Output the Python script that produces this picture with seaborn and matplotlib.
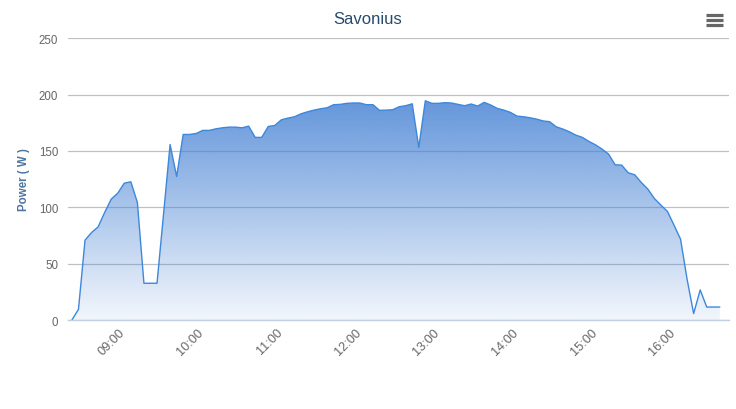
import numpy as np
import pandas as pd
import seaborn as sns
import matplotlib
matplotlib.use("Agg")
import matplotlib.pyplot as plt
import matplotlib.dates as mdates
from matplotlib.lines import Line2D

# power readings (W), one every ~5 minutes from 08:21
power = [
    0, 9.5, 70.8, 77.6, 82.6, 95.4, 107.2, 112.5, 121.4, 122.6,
    104.3, 32.6, 32.6, 32.6, 94.0, 155.7, 127.3, 164.6, 164.6, 165.5,
    168.2, 168.2, 169.6, 170.5, 171.1, 171.1, 170.5, 172.0, 162.0, 162.0,
    171.7, 172.6, 177.6, 179.1, 180.3, 182.9, 184.7, 186.2, 187.4, 188.3,
    191.0, 191.3, 192.2, 192.5, 192.5, 191.0, 191.0, 186.0, 186.2, 186.5,
    189.2, 190.1, 191.8, 153.1, 194.5, 192.2, 192.2, 192.8, 192.5, 191.3,
    190.1, 191.6, 189.8, 193.1, 190.7, 187.7, 186.2, 184.2, 180.9, 180.3,
    179.4, 178.2, 176.6, 175.9, 171.4, 169.4, 167.0, 164.0, 162.0, 158.4,
    155.4, 151.6, 147.2, 137.7, 137.4, 130.6, 128.8, 122.0, 116.1, 107.8,
    101.9, 96.3, 84.1, 71.7, 36.1, 5.7, 26.7, 11.5, 11.5, 11.5,
]
times = pd.date_range("2014-06-01 08:21", "2014-06-01 16:35", periods=len(power))
yticks = [0, 50, 100, 150, 200, 250]
title = "Savonius"
ylabel = "Power ( W )"

df = pd.DataFrame({"time": times, "power": power})

sns.set_style("white")
plt.rcParams["font.family"] = ["Liberation Sans", "DejaVu Sans"]

fig = plt.figure(figsize=(7.36, 4.10), dpi=100)
ax = fig.add_axes([68 / 736, 1 - 321 / 410, (729 - 68) / 736, (321 - 39.2) / 410])

sns.lineplot(data=df, x="time", y="power", ax=ax, color="#3d87dc", lw=1.0, zorder=3)

# gradient fill under the line
xn = mdates.date2num(df["time"])
poly = ax.fill_between(xn, 0, df["power"], color="none", lw=0)
ymax = max(power)
base = np.array([70, 130, 212]) / 255
alpha = np.linspace(0.07, 0.84, 256)
grad = np.zeros((256, 1, 4))
grad[:, 0, :3] = base
grad[:, 0, 3] = alpha
img = ax.imshow(grad, extent=[xn[0], xn[-1], 0, ymax], aspect="auto",
                origin="lower", zorder=2, interpolation="bilinear")
img.set_clip_path(poly.get_paths()[0], transform=ax.transData)

ax.set_xlim(pd.Timestamp("2014-06-01 08:18"), pd.Timestamp("2014-06-01 16:42"))
ax.set_ylim(0, 250)
ax.set_yticks(yticks)
ax.xaxis.set_major_locator(mdates.HourLocator())
ax.xaxis.set_major_formatter(mdates.DateFormatter("%H:%M"))

ax.set_axisbelow(True)
ax.yaxis.grid(True, color="#c0c0c0", lw=0.9)
ax.xaxis.grid(False)
for s in ["top", "left", "right"]:
    ax.spines[s].set_visible(False)
ax.spines["bottom"].set_color("#c0d0e0")
ax.spines["bottom"].set_linewidth(1.0)
ax.spines["bottom"].set_zorder(4)

ax.tick_params(axis="y", length=0, pad=7, labelsize=8.3, labelcolor="#666666")
ax.tick_params(axis="x", length=4, width=0.9, color="#c0d0e0", pad=3.5,
               labelsize=9.2, labelcolor="#666666")
for lab in ax.get_xticklabels():
    lab.set_rotation(45)
    lab.set_ha("right")
    lab.set_va("center")
    lab.set_rotation_mode("anchor")

ax.set_xlabel("")
ax.set_ylabel("")
fig.text(24 / 736, 1 - 180 / 410, ylabel, rotation=90, ha="center", va="center",
         fontsize=8.3, fontweight="bold", color="#4d759e")
fig.text(0.5, 1 - 19 / 410, title, ha="center", va="center", fontsize=12, color="#274b6d")

# menu icon
for yy in [16, 21, 26]:
    fig.add_artist(Line2D([706 / 736, 723 / 736], [1 - yy / 410, 1 - yy / 410],
                          transform=fig.transFigure, lw=2.3, color="#666666",
                          solid_capstyle="butt"))

fig.savefig("out.png", dpi=100)
